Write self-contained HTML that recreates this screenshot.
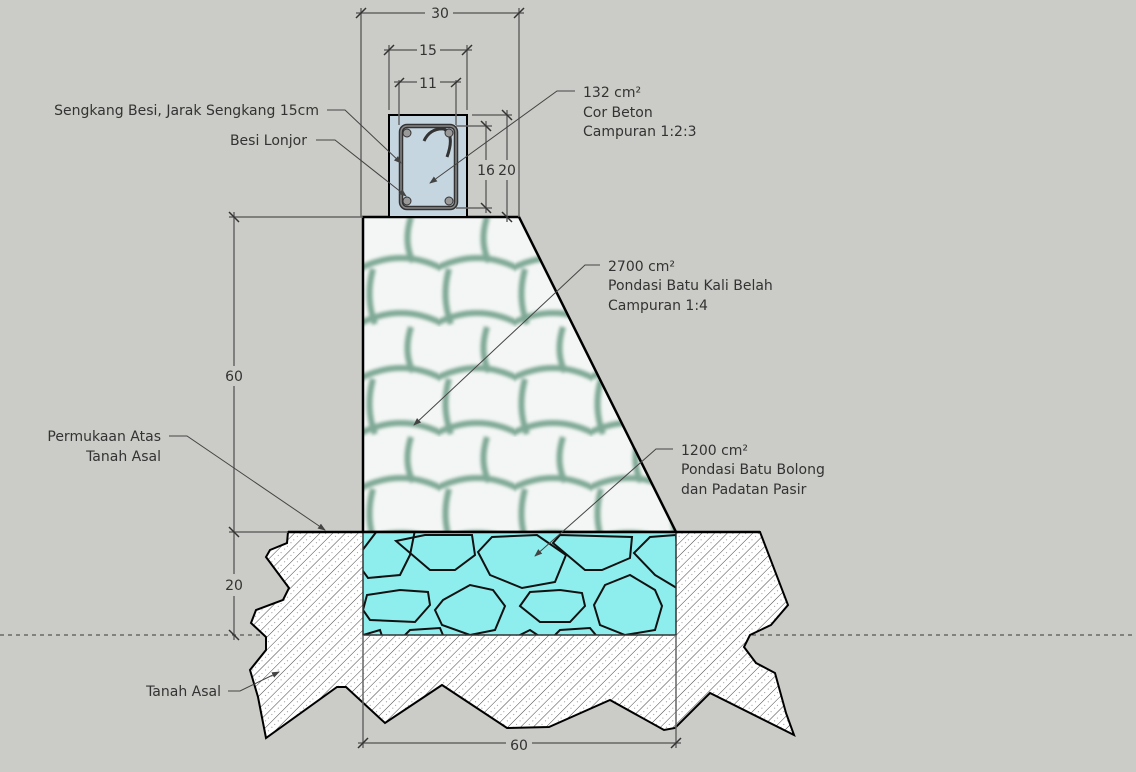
<!DOCTYPE html>
<html><head><meta charset="utf-8"><style>
html,body{margin:0;padding:0;background:#cbcbc7;}
svg{display:block;font-family:"DejaVu Sans","Liberation Sans",sans-serif;}
text{font-size:14px;fill:#333;}
</style></head><body>
<svg width="1136" height="772" viewBox="0 0 1136 772" xmlns="http://www.w3.org/2000/svg">
<defs>
<pattern id="hatch" patternUnits="userSpaceOnUse" width="9" height="9" patternTransform="rotate(45)">
<rect width="9" height="9" fill="#fff"/>
<line x1="0" y1="0" x2="0" y2="9" stroke="#444" stroke-width="1"/>
<circle cx="4.5" cy="3" r="0.5" fill="#777"/><circle cx="4.5" cy="7" r="0.5" fill="#777"/>
</pattern>
<pattern id="stone" patternUnits="userSpaceOnUse" width="76" height="110" x="363" y="217">
<rect width="76" height="110" fill="#f3f6f4"/>
<g fill="none" stroke="#7fa996" stroke-width="6" filter="url(#bl)">
<path d="M-4 52 Q38 30 80 52"/>
<path d="M-4 107 Q38 85 80 107"/>
<path d="M10 52 Q2 80 12 107"/>
<path d="M48 0 Q40 25 50 45"/>
<path d="M48 110 Q40 135 50 155"/>
</g>
</pattern>
<filter id="bl"><feGaussianBlur stdDeviation="1.5"/></filter>
<clipPath id="cy"><rect x="363" y="532" width="313" height="103"/></clipPath>
<marker id="ar" markerWidth="8" markerHeight="8" refX="7" refY="4" orient="auto"><path d="M0 1 L8 4 L0 7 Z" fill="#444"/></marker>
</defs>

<line x1="0" y1="635" x2="1136" y2="635" stroke="#555" stroke-width="1.2" stroke-dasharray="4,4"/>

<polygon fill="url(#hatch)" stroke="#000" stroke-width="2" points="288,532 287,543 270,550 266,557 289,588 283,600 256,610 251,623 266,637 266,650 250,670 258,697 266,738 337,687 346,687 385,723 442,685 507,728 549,727 610,700 664,730 675,728 710,693 794,735 786,713 775,673 756,663 744,647 750,635 771,625 788,605 760,532"/>

<polygon points="363,217 519,217 676,532 363,532" fill="url(#stone)" stroke="#000" stroke-width="2.5"/>

<rect x="363" y="532" width="313" height="103" fill="#8eeeed"/>
<g clip-path="url(#cy)" fill="none" stroke="#111" stroke-width="2">
<polygon points="380,527 415,530 410,555 400,575 368,578 355,560"/>
<polygon points="396,541 425,535 472,535 475,555 455,570 430,570"/>
<polygon points="478,552 492,537 537,535 566,555 555,582 522,588 490,575"/>
<polygon points="553,543 560,535 632,537 630,558 602,570 585,570"/>
<polygon points="634,553 650,537 676,535 680,590 655,575"/>
<polygon points="367,595 400,590 428,592 430,605 415,622 370,620 363,610"/>
<polygon points="443,600 470,585 493,590 505,606 495,630 470,635 442,625 435,610"/>
<polygon points="520,606 530,592 560,590 582,593 585,606 570,622 540,622"/>
<polygon points="594,605 605,585 630,575 655,590 662,606 655,630 625,635 600,625"/>
<polygon points="363,635 380,630 385,645"/>
<polygon points="400,640 410,630 440,628 445,640"/>
<polygon points="510,640 530,630 545,640"/>
<polygon points="550,640 560,630 590,628 600,640"/>
</g>
<rect x="363" y="532" width="313" height="103" fill="none" stroke="#333" stroke-width="1.5"/>
<line x1="288" y1="532" x2="760" y2="532" stroke="#000" stroke-width="2.5"/>

<rect x="389" y="115" width="78" height="102" fill="#c6d6e0" stroke="#000" stroke-width="2"/>
<rect x="401" y="126" width="55" height="82" rx="6" fill="none" stroke="#333" stroke-width="4.5"/>
<rect x="401" y="126" width="55" height="82" rx="6" fill="none" stroke="#888" stroke-width="1.5"/>
<path d="M424 141 Q430 128 444 129 Q455 135 447 157" fill="none" stroke="#333" stroke-width="3"/>
<g fill="#999" stroke="#333" stroke-width="1"><circle cx="407" cy="133" r="4"/><circle cx="449" cy="133" r="4"/><circle cx="407" cy="201" r="4"/><circle cx="449" cy="201" r="4"/></g>

<g stroke="#666" stroke-width="1.5" fill="none">
<line x1="361" y1="8" x2="361" y2="217"/><line x1="519" y1="8" x2="519" y2="217"/>
<line x1="356" y1="13" x2="425" y2="13"/><line x1="453" y1="13" x2="524" y2="13"/>
<line x1="389" y1="45" x2="389" y2="110"/><line x1="467" y1="45" x2="467" y2="110"/>
<line x1="384" y1="50" x2="417" y2="50"/><line x1="440" y1="50" x2="472" y2="50"/>
<line x1="399" y1="80" x2="399" y2="125"/><line x1="456" y1="80" x2="456" y2="125"/>
<line x1="394" y1="82" x2="417" y2="82"/><line x1="440" y1="82" x2="461" y2="82"/>
<line x1="456" y1="126" x2="492" y2="126"/><line x1="456" y1="208" x2="492" y2="208"/>
<line x1="486" y1="121" x2="486" y2="160"/><line x1="486" y1="180" x2="486" y2="213"/>
<line x1="472" y1="115" x2="512" y2="115"/><line x1="507" y1="110" x2="507" y2="160"/><line x1="507" y1="180" x2="507" y2="222"/>
<line x1="229" y1="217" x2="363" y2="217"/>
<line x1="234" y1="212" x2="234" y2="366"/><line x1="234" y1="386" x2="234" y2="574"/><line x1="234" y1="596" x2="234" y2="640"/>
<line x1="229" y1="532" x2="288" y2="532"/>
<line x1="363" y1="635" x2="363" y2="748"/><line x1="676" y1="635" x2="676" y2="748"/>
<line x1="358" y1="743" x2="506" y2="743"/><line x1="532" y1="743" x2="681" y2="743"/>
</g>
<g stroke="#333" stroke-width="1.5">
<line x1="356" y1="18" x2="366" y2="8"/><line x1="514" y1="18" x2="524" y2="8"/>
<line x1="384" y1="55" x2="394" y2="45"/><line x1="462" y1="55" x2="472" y2="45"/>
<line x1="395" y1="87" x2="404" y2="78"/><line x1="451" y1="87" x2="461" y2="78"/>
<line x1="481" y1="121" x2="491" y2="131"/><line x1="481" y1="203" x2="491" y2="213"/>
<line x1="502" y1="110" x2="512" y2="120"/><line x1="502" y1="212" x2="512" y2="222"/>
<line x1="229" y1="212" x2="239" y2="222"/><line x1="229" y1="527" x2="239" y2="537"/><line x1="229" y1="630" x2="239" y2="640"/>
<line x1="358" y1="748" x2="368" y2="738"/><line x1="671" y1="748" x2="681" y2="738"/>
</g>
<g text-anchor="middle">
<text x="440" y="18">30</text><text x="428" y="55">15</text><text x="428" y="88">11</text>
<text x="486" y="175">16</text><text x="507" y="175">20</text>
<text x="234" y="381">60</text><text x="234" y="590">20</text><text x="519" y="750">60</text>
</g>

<g stroke="#444" stroke-width="1" fill="none" marker-end="url(#ar)">
<polyline points="327,110 345,110 401,163"/>
<polyline points="316,140 335,140 406,196"/>
<polyline points="575,91 557,91 430,183"/>
<polyline points="600,265 585,265 414,425"/>
<polyline points="673,449 656,449 535,556"/>
<polyline points="169,436 187,436 325,530"/>
<polyline points="228,691 240,691 279,672"/>
</g>
<g text-anchor="end">
<text x="319" y="115">Sengkang Besi, Jarak Sengkang 15cm</text>
<text x="307" y="145">Besi Lonjor</text>
<text x="161" y="441">Permukaan Atas</text>
<text x="161" y="461">Tanah Asal</text>
<text x="221" y="696">Tanah Asal</text>
</g>
<text x="583" y="97">132 cm²</text><text x="583" y="117">Cor Beton</text><text x="583" y="136">Campuran 1:2:3</text>
<text x="608" y="271">2700 cm²</text><text x="608" y="290">Pondasi Batu Kali Belah</text><text x="608" y="310">Campuran 1:4</text>
<text x="681" y="455">1200 cm²</text><text x="681" y="474">Pondasi Batu Bolong</text><text x="681" y="494">dan Padatan Pasir</text>
</svg>
</body></html>
